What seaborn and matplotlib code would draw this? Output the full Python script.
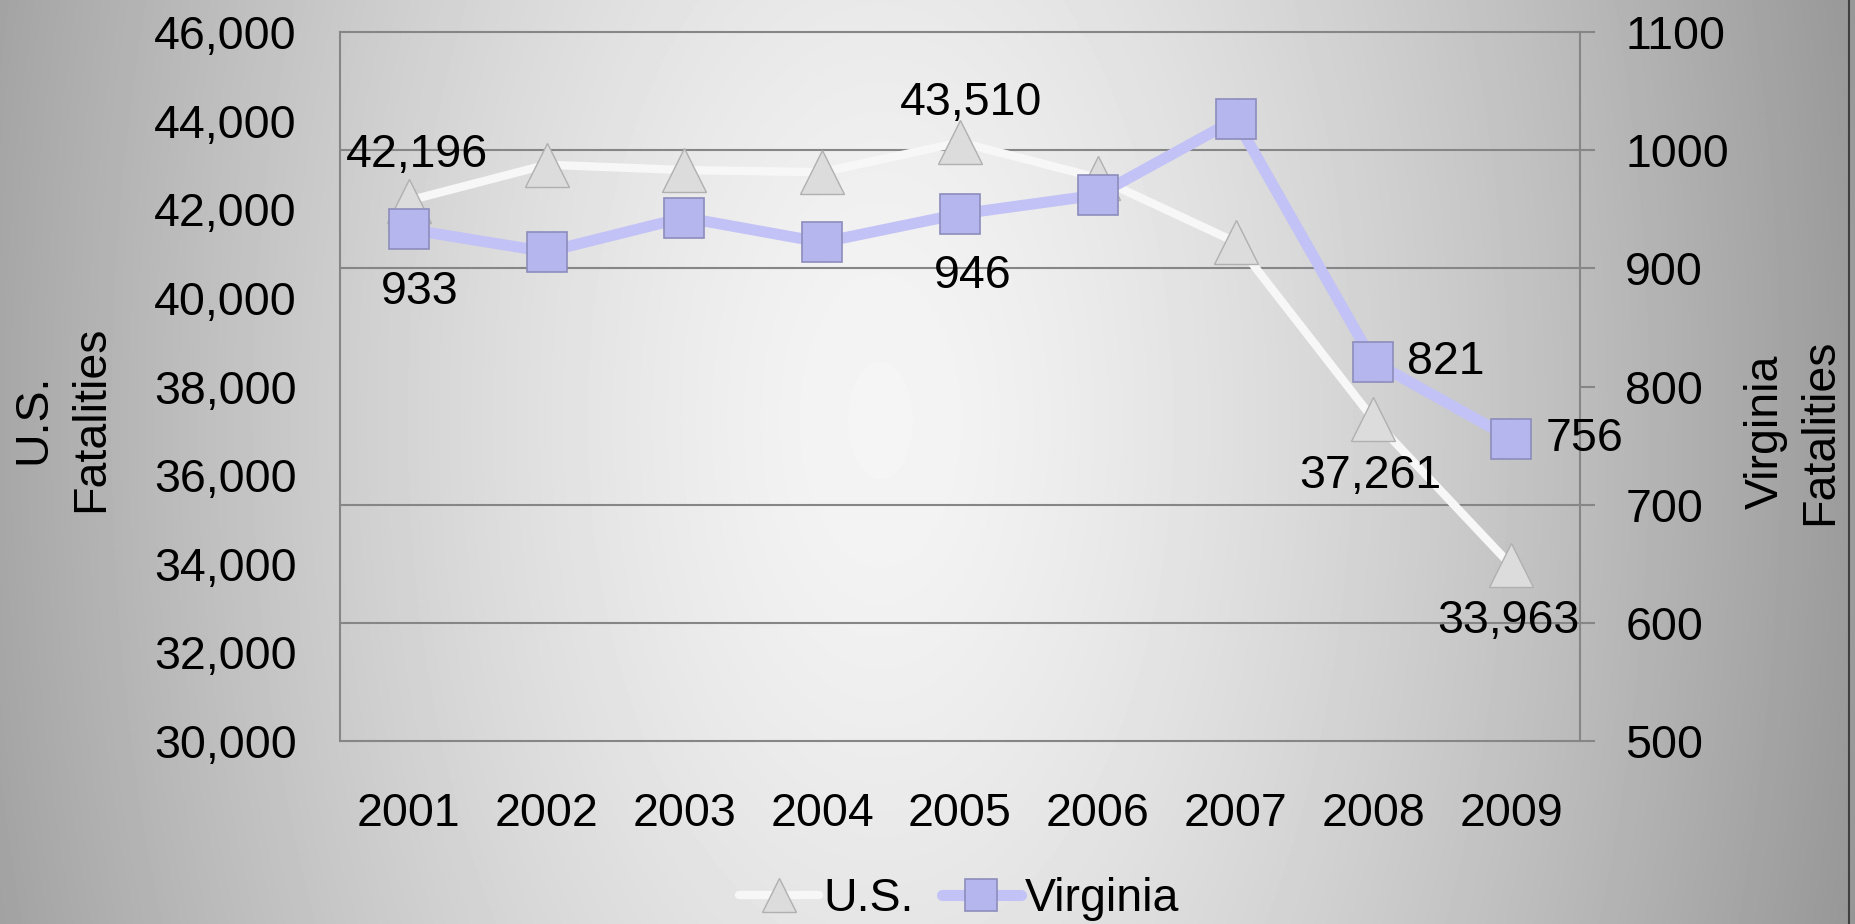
import numpy as np
import pandas as pd
import seaborn as sns
import matplotlib.pyplot as plt
from matplotlib.ticker import FuncFormatter
from matplotlib.lines import Line2D

# Values
years = ["2001", "2002", "2003", "2004", "2005", "2006", "2007", "2008", "2009"]
us_fatalities = [42196, 43005, 42884, 42836, 43510, 42708, 41259, 37261, 33963]
va_fatalities = [933, 914, 943, 922, 946, 962, 1026, 821, 756]
us_ticks = list(range(30000, 46001, 2000))
va_ticks = list(range(500, 1101, 100))

df = pd.DataFrame({"year": years, "US": us_fatalities, "Virginia": va_fatalities})

sns.set_style("white")
plt.rcParams["font.family"] = ["Liberation Sans", "DejaVu Sans"]
plt.rcParams["text.color"] = "black"
FS = 33.5
GREY = "#868686"

fig = plt.figure(figsize=(18.56, 9.24), dpi=100)

# grey gradient behind everything: light in the middle, darker to the sides
bg = fig.add_axes([0, 0, 1, 1], zorder=-10)
yy, xx = np.mgrid[0:924, 0:1856]
d = np.sqrt(((xx - 880) / 930.0) ** 2 + ((yy - 420) / 1700.0) ** 2)
shade = np.clip(0.96 - 0.33 * d ** 1.4, 0, 1)
bg.imshow(shade, cmap="gray", vmin=0, vmax=1, aspect="auto", interpolation="bilinear")
bg.axis("off")

ax1 = fig.add_axes([0.1832, 0.198, 0.8513 - 0.1832, 0.9654 - 0.198])
ax1.patch.set_alpha(0)
ax2 = ax1.twinx()
ax2.patch.set_alpha(0)

sns.lineplot(data=df, x="year", y="US", ax=ax1, color="#f7f7f7", linewidth=6,
             marker="^", markersize=31, markerfacecolor="#dcdcdc",
             markeredgecolor="#b0b0b0", markeredgewidth=1, label="U.S.", legend=False)
sns.lineplot(data=df, x="year", y="Virginia", ax=ax2, color="#c2c2f6", linewidth=8,
             marker="s", markersize=29, markerfacecolor="#b6b6ee",
             markeredgecolor="#8c8cbc", markeredgewidth=1.2, label="Virginia", legend=False)

ax1.set_xlim(-0.5, len(years) - 0.5)
ax1.set_ylim(us_ticks[0], us_ticks[-1])
ax2.set_ylim(va_ticks[0], va_ticks[-1])
ax1.set_yticks(us_ticks)
ax2.set_yticks(va_ticks)
ax1.yaxis.set_major_formatter(FuncFormatter(lambda v, p: f"{int(v):,}"))

# horizontal grid follows the right-hand axis, drawn under the lines
ax1.set_yticks(np.linspace(us_ticks[0], us_ticks[-1], len(va_ticks)), minor=True)
ax1.grid(which="minor", axis="y", color=GREY, linewidth=1.5)
ax1.grid(which="major", visible=False)
ax2.grid(False)

ax1.tick_params(axis="y", which="both", length=0, pad=31, labelsize=FS, colors="black")
ax1.tick_params(axis="x", length=0, pad=37, labelsize=FS, colors="black")
ax2.tick_params(axis="y", length=10.5, width=1.5, color=GREY, pad=22, labelsize=FS,
                labelcolor="black")

for s in ["left", "top", "bottom"]:
    ax1.spines[s].set_color(GREY)
    ax1.spines[s].set_linewidth(1.5)
ax1.spines["right"].set_visible(False)
for s in ["left", "top", "bottom"]:
    ax2.spines[s].set_visible(False)
ax2.spines["right"].set_color(GREY)
ax2.spines["right"].set_linewidth(1.5)

ax1.set_xlabel("")
ax1.set_ylabel("U.S.\nFatalities", fontsize=FS, linespacing=1.4, color="black")
ax2.set_ylabel("Virginia\nFatalities", fontsize=FS, linespacing=1.3, color="black")
ax1.yaxis.set_label_coords(-0.183, 0.454)
ax2.yaxis.set_label_coords(1.132, 0.436)

# data labels (offsets in points)
us_label_pos = {0: (6, 33), 4: (8, 28), 7: (-2, -41), 8: (-2, -40)}
va_label_pos = {0: (8, -45), 4: (9, -45), 7: (24, 0), 8: (25, 0)}
for i, off in us_label_pos.items():
    ax1.annotate(f"{us_fatalities[i]:,}", (i, us_fatalities[i]), xytext=off,
                 textcoords="offset points", ha="center", va="center", fontsize=FS)
for i, off in va_label_pos.items():
    ax2.annotate(f"{va_fatalities[i]}", (i, va_fatalities[i]), xytext=off,
                 textcoords="offset points", ha="left" if off[0] > 15 else "center",
                 va="center", fontsize=FS)

handles = [ax1.get_lines()[0], ax2.get_lines()[0]]
fig.legend(handles, ["U.S.", "Virginia"], loc="center", bbox_to_anchor=(0.517, 0.027),
           ncol=2, frameon=False, fontsize=FS, handlelength=1.7, handletextpad=0.1,
           columnspacing=0.6, markerscale=0.8)

fig.add_artist(Line2D([0.9962, 0.9962], [0, 1], color="#404040", lw=1.5,
                      transform=fig.transFigure))

fig.savefig("out.png", dpi=100)
